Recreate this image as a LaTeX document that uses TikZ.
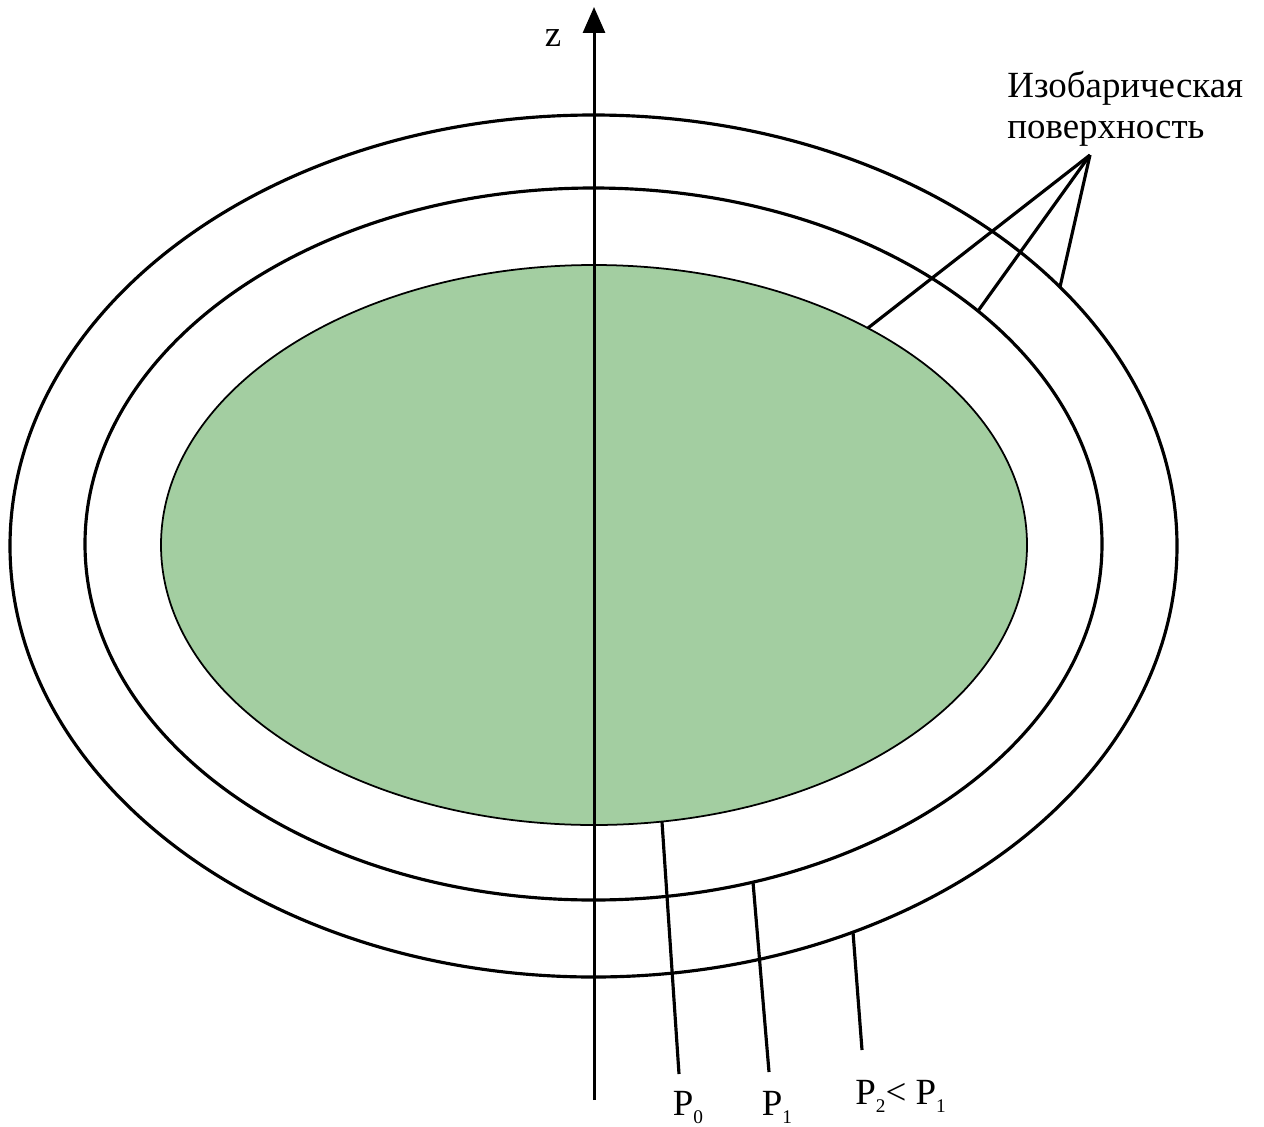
\documentclass[tikz,border=0pt]{standalone}
\usepackage{fontspec}
\setmainfont{Liberation Serif}
\usetikzlibrary{arrows.meta, positioning}
\definecolor{coreGreen}{RGB}{163,206,161}
\newcommand{\lowsub}[1]{\raisebox{-5pt}{\fontsize{11}{11}\selectfont #1}}

\begin{document}
\begin{tikzpicture}[x=0.02cm, y=-0.02cm, font=\fontsize{21}{24}\selectfont,
          surface/.style={draw=black, line width=1.8pt},
          core/.style={draw=black, line width=1pt, fill=coreGreen},
          leader/.style={draw=black, line width=1.8pt},
          axis/.style={-{Triangle[length=0.52cm, width=0.44cm]}, line width=1.7pt},
          txt/.style={inner sep=0pt}]
        \useasboundingbox (0,0) rectangle (1264,1126);

        % isobaric surfaces
        \draw [core] (594,545) ellipse [x radius=433, y radius=280];
        \draw [surface] (593.5,544) ellipse [x radius=508.5, y radius=356];
        \draw [surface] (593.5,546) ellipse [x radius=583.5, y radius=431];

        % z axis
        \coordinate (zbot) at (594,1100);
        \coordinate (ztop) at (594,7);
        \draw [axis] (zbot) -- (ztop);
        \node [txt, anchor=base] (zlbl) at (553,46) {z};

        % caption and leaders
        \node [txt, anchor=base west] (cap1) at (1007,97) {Изобарическая};
        \node [txt, anchor=base west] (cap2) at (1007,138) {поверхность};
        \coordinate (apex) at (1090,155);
        \coordinate (g0) at (868,328);
        \coordinate (m0) at (978,311);
        \coordinate (o0) at (1060,287);
        \draw [leader] (apex) -- (g0);
        \draw [leader] (apex) -- (m0);
        \draw [leader] (apex) -- (o0);

        % pressure labels
        \node [txt, anchor=base] (p0) at (688,1115) {P\lowsub{0}};
        \node [txt, anchor=base] (p1) at (777,1115) {P\lowsub{1}};
        \node [txt, anchor=base west] (p2) at (855,1104) {P\lowsub{2}< P\lowsub{1}};
        \coordinate (gP) at (662,822);
        \coordinate (mP) at (753,882);
        \coordinate (oP) at (853,932);
        \coordinate (p0end) at (679,1074);
        \coordinate (p1end) at (769,1072);
        \coordinate (p2end) at (862,1050);
        \draw [leader] (gP) -- (p0end);
        \draw [leader] (mP) -- (p1end);
        \draw [leader] (oP) -- (p2end);
      \end{tikzpicture}
\end{document}
